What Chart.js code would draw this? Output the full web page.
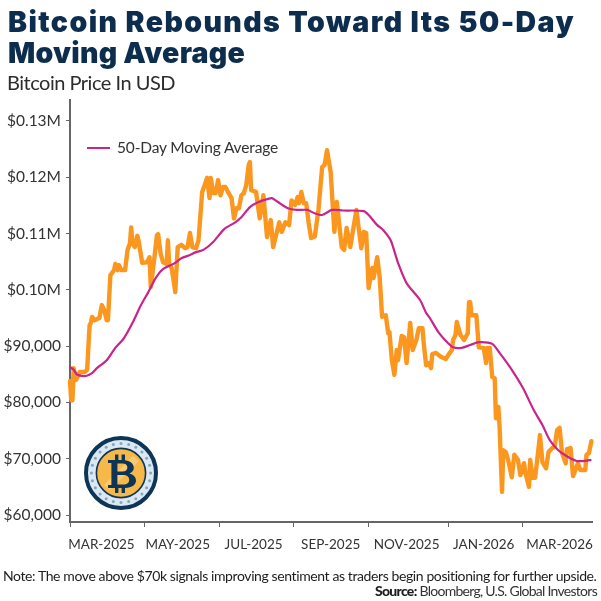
<!DOCTYPE html>
<html>
<head>
<meta charset="utf-8">
<title>Bitcoin Rebounds Toward Its 50-Day Moving Average</title>
<script src="https://cdn.jsdelivr.net/npm/chart.js@4"></script>
<style>
  html, body { margin: 0; padding: 0; background: #fff; }
  #page { position: relative; width: 601px; height: 601px; overflow: hidden; font-family: Lato, sans-serif; }
  #page canvas { position: absolute; left: 0; top: 0; }
  .txt { position: absolute; white-space: nowrap; }
  #title { left: 8px; top: 7px; font-family: Inter, sans-serif; font-weight: 900; font-size: 28.5px; line-height: 30.5px; color: #0c2d4e; }
  #title span { display: block; width: max-content; }
  #subtitle { left: 7px; top: 69px; font-size: 20px; line-height: 26px; color: #2c2c2c; }
  #legend { left: 117px; top: 137px; font-size: 15.5px; line-height: 20px; color: #333; }
  #legendKey { position: absolute; left: 87px; top: 146.5px; width: 23px; height: 2px; background: #c9248b; }
  #note { left: 3px; top: 567px; font-size: 14px; line-height: 18px; color: #1d1d1d; }
  #source { right: 4px; top: 582px; font-size: 14px; line-height: 18px; color: #333; }
  #source b { font-weight: 900; color: #1d1d1d; }
  #coin { position: absolute; left: 83px; top: 435px; width: 76px; height: 76px; }
</style>
</head>
<body>
<div id="page">
  <canvas id="chart" width="601" height="601"></canvas>
  <div class="txt" id="title"><span data-w="567">Bitcoin Rebounds Toward Its 50-Day</span><span data-w="237">Moving Average</span></div>
  <div class="txt" id="subtitle" data-w="168">Bitcoin Price In USD</div>
  <div id="legendKey"></div>
  <div class="txt" id="legend" data-w="161">50-Day Moving Average</div>
  <svg id="coin" viewBox="-38 -38 76 76" aria-hidden="true">
    <circle r="35" fill="#dbe7f1" stroke="#0c3557" stroke-width="4"/>
    <g id="coinDots" fill="#7ea7c8"></g>
    <circle r="24.6" fill="#f7b84a" stroke="#0c3557" stroke-width="1.6"/>
    <path d="M-17 12 L12 -17 L18 -12 L-11 17 Z" fill="#fbc96f"/>
    <path fill="#0c3557" fill-rule="evenodd" d="M-13 -13 H-6 V-18.5 H-2.6 V-13 H0.6 V-18.5 H4 V-12.7 C10 -11.8 12.8 -8.6 12.8 -5.3 C12.8 -2.4 11 -0.6 8.4 0.4 C12.4 1.4 15 4 15 7.6 C15 11.8 11.4 14.6 4 15 V20 H0.6 V15.1 H-2.6 V20 H-6 V15.1 H-13 V12 H-9.6 V-10 H-13 Z M-3.6 -9.6 V-1.4 H1.4 C4.6 -1.4 6.4 -3.2 6.4 -5.5 C6.4 -8 4.6 -9.6 1.4 -9.6 Z M-3.6 2 V11.6 H2 C6 11.6 8.2 10 8.2 6.8 C8.2 3.8 6 2 2 2 Z"/>
  </svg>
  <div class="txt" id="note" data-w="594">Note: The move above $70k signals improving sentiment as traders begin positioning for further upside.</div>
  <div class="txt" id="source" data-w="222"><b>Source:</b> Bloomberg, U.S. Global Investors</div>
</div>
<script>
// Bitcoin closes: day offset from the start of the series and price in USD
const priceDays = [0,1,2,3,5,8,12,14,16,17,18,20,24,26,28,30,31,33,36,37,39,40,42,45,47,49,50,51,53,55,56,59,63,65,66,69,71,72,74,76,79,80,81,83,85,86,88,91,94,96,98,100,103,105,108,110,112,114,115,117,119,121,123,125,127,129,132,134,136,138,140,142,144,146,147,148,152,155,158,161,164,166,168,171,173,176,179,181,184,186,187,189,191,193,195,197,200,203,206,208,210,212,213,216,218,222,224,226,229,234,238,240,242,244,247,248,251,253,255,258,260,261,263,265,267,268,271,273,275,278,280,283,285,288,289,291,293,295,296,299,303,307,309,312,313,315,316,319,322,325,326,327,328,332,334,338,340,341,343,345,347,348,350,351,353,354,356,358,361,363,366,368,371,372,375,376,378,380,382,384,386,389,391,394,396,398,400,402,405,406,409,411,415,417,421,422,424,426];
const priceValues = [83800,80400,80400,86100,84000,85400,85400,85800,93700,94100,95200,94600,95000,97300,96400,94600,94600,102600,103500,104600,103500,104400,103500,103500,107100,108300,111100,108300,107600,109600,108800,104800,104900,105800,100500,105800,109700,109900,106500,104900,104600,108800,104600,103900,101200,99600,107600,108000,107400,107600,110100,107600,107400,108800,117400,118600,119900,116300,119900,117200,117200,119500,116800,118300,118300,117400,116300,112700,114500,114500,116800,117200,118600,122200,122700,117700,117400,112700,116800,109400,112400,107600,109400,112000,110300,112000,111500,115900,115100,116500,115400,117400,115400,115400,111900,109200,109500,114200,121800,122200,124800,122200,120900,110300,115600,107600,107100,111000,107600,114200,107400,110300,110100,100300,103900,102100,105800,102300,95200,95500,92300,92500,87500,84900,89300,87500,91800,91600,87000,94100,89300,91100,93200,93200,90500,86600,87000,86100,88600,88800,88100,87700,88400,89300,91100,92000,94300,92000,91100,92300,97800,97800,95500,95500,89800,89700,87000,89700,89700,84500,84300,77200,79200,75600,64100,71500,71200,69800,66700,70700,69800,67100,69200,67600,65000,69800,66600,66600,70300,74200,69400,68300,71200,71900,72100,75100,75500,71000,69200,71700,71900,66900,69200,68000,68000,70700,71000,73100];

// 50-day moving average, on the same day offsets
const averageDays = [0,3,6,13,18,22,30,37,44,51,58,64,70,76,86,91,98,103,109,117,126,135,140,147,154,161,165,170,178,185,194,200,206,214,223,240,244,251,256,262,268,275,286,291,294,301,309,313,320,327,334,345,351,361,370,379,386,392,399,407,414,421,426];
const averageValues = [86300,85800,84900,84700,85200,86100,87500,89700,91400,94100,97300,99600,102100,103700,104800,105600,106200,106700,107100,108500,110800,112000,112900,114700,115600,116100,116300,115600,114500,114200,114200,113600,113300,114200,114100,114000,113300,111500,110600,108800,104800,101200,98200,95900,95000,92500,90500,89800,89700,90200,90700,90400,88800,85800,82600,78600,76000,73300,71500,70300,69600,69600,69800];

// Axis marks
const yTickValues = [60000,70000,80000,90000,100000,110000,120000,130000];
const yTickLabels = ['$60,000','$70,000','$80,000','$90,000','$0.10M','$0.11M','$0.12M','$0.13M'];
const monthTickDays = [0,61,122,183,244,309,370];
const monthLabelDays = [25.7,88,150,213,275,338,400];
const monthLabels = ['MAR-2025','MAY-2025','JUL-2025','SEP-2025','NOV-2025','JAN-2026','MAR-2026'];

const axisGrey = '#666666';

// Stretch or tighten each text run to its set width
function fitWidth(el) {
  const target = Number(el.dataset.w);
  const rule = el.style.display;
  el.style.display = 'inline-block';
  el.style.letterSpacing = '0px';
  const natural = el.getBoundingClientRect().width;
  el.style.letterSpacing = ((target - natural) / el.textContent.length) + 'px';
  el.style.display = rule;
}
document.querySelectorAll('[data-w]').forEach(fitWidth);

// Dotted ring of the coin badge
const dotGroup = document.getElementById('coinDots');
for (let i = 0; i < 24; i++) {
  const a = i * Math.PI / 12;
  const dot = document.createElementNS('http://www.w3.org/2000/svg', 'circle');
  dot.setAttribute('cx', (29.6 * Math.cos(a)).toFixed(2));
  dot.setAttribute('cy', (29.6 * Math.sin(a)).toFixed(2));
  dot.setAttribute('r', '1.5');
  dotGroup.appendChild(dot);
}

new Chart(document.getElementById('chart'), {
  type: 'line',
  data: {
    datasets: [
      {
        label: 'Bitcoin',
        data: priceDays.map((d, i) => ({ x: d, y: priceValues[i] })),
        borderColor: '#fb971f',
        borderWidth: 4.4,
        pointRadius: 0,
        tension: 0,
        borderJoinStyle: 'round',
        borderCapStyle: 'round',
        order: 2
      },
      {
        label: '50-Day Moving Average',
        data: averageDays.map((d, i) => ({ x: d, y: averageValues[i] })),
        borderColor: '#c9248b',
        borderWidth: 2.2,
        pointRadius: 0,
        tension: 0.25,
        borderJoinStyle: 'round',
        order: 1
      }
    ]
  },
  options: {
    responsive: false,
    animation: false,
    layout: { padding: { top: 100, right: 9, bottom: 0, left: 0 } },
    plugins: { legend: { display: false }, title: { display: false }, tooltip: { enabled: false } },
    clip: false,
    scales: {
      x: {
        type: 'linear',
        min: 0,
        max: 426.5,
        weight: 0,
        afterBuildTicks: s => { s.ticks = monthTickDays.map(v => ({ value: v })); },
        afterFit: s => { s.height = 5; s.paddingLeft = 0; s.paddingRight = 0; },
        ticks: { display: false, autoSkip: false },
        grid: { display: true, drawOnChartArea: false, drawTicks: true, tickLength: 5, tickColor: axisGrey, tickWidth: 1 },
        border: { display: true, color: axisGrey, width: 2 }
      },
      xMonths: {
        type: 'linear',
        position: 'bottom',
        min: 0,
        max: 426.5,
        weight: 1,
        afterBuildTicks: s => { s.ticks = monthLabelDays.map(v => ({ value: v })); },
        afterFit: s => { s.height = 74; s.paddingLeft = 0; s.paddingRight = 0; },
        ticks: {
          autoSkip: false,
          maxRotation: 0,
          minRotation: 0,
          padding: 10,
          font: { family: 'Lato, sans-serif', size: 13.5 },
          color: '#333333',
          callback: v => monthLabels[monthLabelDays.indexOf(v)]
        },
        grid: { display: false, drawTicks: false },
        border: { display: false }
      },
      y: {
        type: 'linear',
        min: 58757,
        max: 133730,
        afterBuildTicks: s => { s.ticks = yTickValues.map(v => ({ value: v })); },
        afterFit: s => { s.width = 70; s.paddingTop = 0; s.paddingBottom = 0; },
        ticks: {
          padding: 5,
          font: { family: 'Lato, sans-serif', size: 15.5 },
          color: '#333333',
          autoSkip: false,
          callback: v => yTickLabels[yTickValues.indexOf(v)]
        },
        grid: { display: true, drawOnChartArea: false, drawTicks: true, tickLength: 4, tickColor: axisGrey, tickWidth: 1 },
        border: { display: true, color: axisGrey, width: 2 }
      }
    }
  }
});
</script>
</body>
</html>
